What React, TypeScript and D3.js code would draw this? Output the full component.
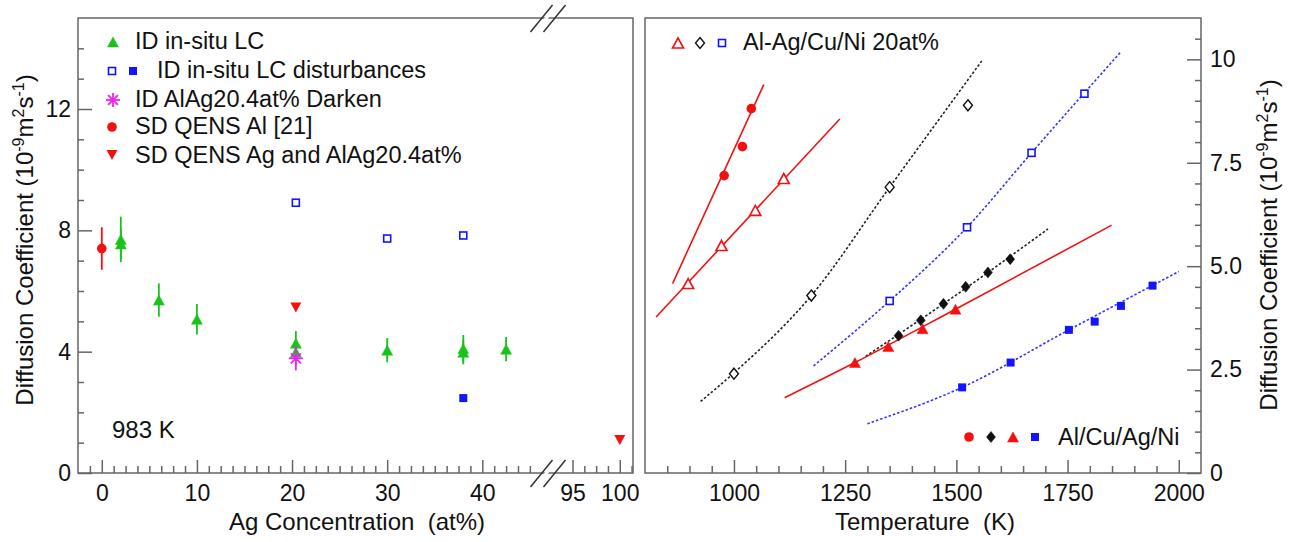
import React, { useEffect, useRef } from "react";
import * as d3 from "d3";

const W = 1289, H = 542;
const FONT = "'Liberation Sans', Arial, Helvetica, sans-serif";

// ---- left panel, 983 K : [Ag at%, D, err]
const insituLC = [[2, 7.7, 0.75], [2, 7.55, 0.5], [6, 5.7, 0.55], [10, 5.07, 0.5], [20.4, 4.28, 0.4], [20.4, 3.98, 0.3], [30, 4.05, 0.4], [38, 4.1, 0.45], [38, 3.98, 0.4], [42.5, 4.08, 0.4]];
const disturbOpen = [[20.4, 8.91], [30, 7.73], [38, 7.83]];
const disturbFilled = [[38, 2.47]];
const darkenAlAg = [[20.4, 3.78, 0.4]];
const qensAl = [[0, 7.4, 0.7]];
const qensAg = [[20.4, 5.46], [100, 1.09]];

const concMajorA = [0, 10, 20, 30, 40];
const concMajorB = [95, 100];
const leftYMajor = [0, 4, 8, 12];

// ---- right panel : [T (K), D]
const alPure = [[978, 7.19], [1019, 7.89], [1039, 8.81]];
const alAg20 = [[897, 4.58], [972, 5.5], [1048, 6.35], [1112, 7.12]];
const alCu20 = [[1000, 2.4], [1174, 4.29], [1350, 6.91], [1526, 8.89]];
const alNi20 = [[1350, 4.16], [1524, 5.94], [1669, 7.74], [1788, 9.17]];
const cuPure = [[1370, 3.32], [1420, 3.69], [1471, 4.09], [1521, 4.5], [1571, 4.85], [1621, 5.17]];
const agPure = [[1272, 2.67], [1347, 3.06], [1424, 3.49], [1498, 3.96]];
const niPure = [[1513, 2.07], [1622, 2.67], [1753, 3.46], [1811, 3.66], [1870, 4.04], [1941, 4.53]];

// fit curves
const alFit = [[862, 4.58], [1067, 9.39]];
const alAg20Fit = [[825, 3.77], [1238, 8.56]];
const alCu20Fit = [[925, 1.73], [1000, 2.42], [1174, 4.29], [1350, 6.91], [1557, 9.96]];
const alNi20Fit = [[1179, 2.59], [1350, 4.16], [1524, 5.94], [1669, 7.74], [1868, 10.16]];
const cuFit = [[1296, 2.82], [1471, 4.09], [1706, 5.9]];
const agFit = [[1114, 1.82], [1272, 2.67], [1498, 3.96], [1849, 5.99]];
const niFit = [[1300, 1.19], [1513, 2.07], [1753, 3.46], [2000, 4.87]];

const tempMajor = [1000, 1250, 1500, 1750, 2000];
const rightYMajor = [0, 2.5, 5, 7.5, 10];

const RED = "#f41010", GREEN = "#19c419", BLUE = "#1414ff", MAG = "#ee22ee", BLK = "#111";
const AXC = "#666";

function marker(g: any, kind: string, x: number, y: number, color: string) {
  if (kind === "tri" || kind === "triOpen") {
    const w = 11, h = 10;
    g.append("path").attr("d", `M${x - w / 2},${y + h / 2}L${x + w / 2},${y + h / 2}L${x},${y - h / 2}Z`)
      .attr("fill", kind === "tri" ? color : "#fff").attr("stroke", color).attr("stroke-width", kind === "tri" ? 0.5 : 1.6);
  } else if (kind === "triDown") {
    const w = 11, h = 10;
    g.append("path").attr("d", `M${x - w / 2},${y - h / 2}L${x + w / 2},${y - h / 2}L${x},${y + h / 2}Z`).attr("fill", color);
  } else if (kind === "circle") {
    g.append("circle").attr("cx", x).attr("cy", y).attr("r", 4.8).attr("fill", color);
  } else if (kind === "square") {
    g.append("rect").attr("x", x - 4).attr("y", y - 4).attr("width", 8).attr("height", 8).attr("fill", color);
  } else if (kind === "squareOpen") {
    g.append("rect").attr("x", x - 3.5).attr("y", y - 3.5).attr("width", 7).attr("height", 7)
      .attr("fill", "#fff").attr("stroke", color).attr("stroke-width", 1.6);
  } else if (kind === "diamond" || kind === "diamondOpen") {
    const w = 4.5, h = 5.5;
    g.append("path").attr("d", `M${x},${y - h}L${x + w},${y}L${x},${y + h}L${x - w},${y}Z`)
      .attr("fill", kind === "diamond" ? color : "#fff").attr("stroke", color).attr("stroke-width", kind === "diamond" ? 0.5 : 1.4);
  } else if (kind === "star") {
    const r = 7;
    [0, 45, 90, 135].forEach(a => {
      const dx = r * Math.cos(a * Math.PI / 180), dy = r * Math.sin(a * Math.PI / 180);
      g.append("line").attr("x1", x - dx).attr("y1", y - dy).attr("x2", x + dx).attr("y2", y + dy)
        .attr("stroke", color).attr("stroke-width", 1.8);
    });
  }
}

function yTitle(g: any, x: number, y: number) {
  const t = g.append("text").attr("transform", `translate(${x},${y}) rotate(-90)`)
    .attr("text-anchor", "middle").attr("font-size", 24).attr("fill", "#111");
  t.append("tspan").text("Diffusion Coefficient (10");
  t.append("tspan").attr("dy", -9).attr("font-size", 16).text("-9");
  t.append("tspan").attr("dy", 9).text("m");
  t.append("tspan").attr("dy", -9).attr("font-size", 16).text("2");
  t.append("tspan").attr("dy", 9).text("s");
  t.append("tspan").attr("dy", -9).attr("font-size", 16).text("-1");
  t.append("tspan").attr("dy", 9).text(")");
}

function breakMark(g: any, bx: number, by: number) {
  // white gap between the two slashes, then the slashes
  g.append("path").attr("d", `M${bx - 8},${by + 8}L${bx + 1},${by - 8}L${bx + 5},${by - 8}L${bx - 4},${by + 8}Z`)
    .attr("fill", "#fff");
  [-6.5, 6.5].forEach(o => {
    g.append("line").attr("x1", bx + o - 11).attr("y1", by + 14).attr("x2", bx + o + 11).attr("y2", by - 13)
      .attr("stroke", "#333").attr("stroke-width", 1.5);
  });
}

function styleAxis(sel: any) {
  sel.select(".domain").remove();
  sel.selectAll(".tick line").attr("stroke", AXC).attr("stroke-width", 1.5);
  sel.selectAll("text").attr("font-size", 23).attr("font-family", FONT).attr("fill", "#111");
}

export default function App() {
  const ref = useRef<SVGSVGElement>(null);

  useEffect(() => {
    const svg = d3.select(ref.current);
    svg.selectAll("*").remove();

    // ================= left panel =================
    const L = { x0: 78, x1: 633, y0: 18, y1: 473 };
    const bx = 547;
    const xA = d3.scaleLinear().domain([-2.5, 46.8]).range([L.x0, bx]);
    const xB = d3.scaleLinear().domain([92.3, 101.4]).range([bx, L.x1]);
    const xC = (v: number) => (v > 70 ? xB(v) : xA(v));
    const yL = d3.scaleLinear().domain([0, 15]).range([L.y1, L.y0]);

    const gl = svg.append("g");
    gl.append("rect").attr("x", L.x0).attr("y", L.y0).attr("width", L.x1 - L.x0).attr("height", L.y1 - L.y0)
      .attr("fill", "none").attr("stroke", AXC).attr("stroke-width", 1.5);

    const minA = d3.range(-1.25, 45.01, 1.25).filter(v => Math.abs(v % 10) > 0.01);
    const minB = d3.range(96.25, 101.3, 1.25).filter(v => Math.abs(v - 100) > 0.01);
    gl.append("g").attr("transform", `translate(0,${L.y1})`)
      .call(d3.axisBottom(xA).tickValues(minA).tickSize(-7).tickFormat(() => "")).call(styleAxis);
    gl.append("g").attr("transform", `translate(0,${L.y1})`)
      .call(d3.axisBottom(xB).tickValues(minB).tickSize(-7).tickFormat(() => "")).call(styleAxis);
    gl.append("g").attr("transform", `translate(0,${L.y1})`)
      .call(d3.axisBottom(xA).tickValues(concMajorA).tickSize(-13).tickPadding(12)).call(styleAxis);
    gl.append("g").attr("transform", `translate(0,${L.y1})`)
      .call(d3.axisBottom(xB).tickValues(concMajorB).tickSize(-13).tickPadding(12)).call(styleAxis);
    gl.append("g").attr("transform", `translate(${L.x0},0)`)
      .call(d3.axisLeft(yL).tickValues(d3.range(1, 15).filter(v => v % 4 !== 0)).tickSize(-6).tickFormat(() => "")).call(styleAxis);
    gl.append("g").attr("transform", `translate(${L.x0},0)`)
      .call(d3.axisLeft(yL).tickValues(leftYMajor).tickSize(-14).tickPadding(7)).call(styleAxis);

    breakMark(gl, bx + 1, L.y1);
    breakMark(gl, bx + 1, L.y0);

    const pts = gl.append("g");
    const errBar = (d: number[], color: string) =>
      pts.append("line").attr("x1", xC(d[0])).attr("x2", xC(d[0]))
        .attr("y1", yL(d[1] - d[2])).attr("y2", yL(d[1] + d[2])).attr("stroke", color).attr("stroke-width", 1.8);
    qensAl.forEach(d => { errBar(d, RED); marker(pts, "circle", xC(d[0]), yL(d[1]), RED); });
    insituLC.forEach(d => errBar(d, GREEN));
    insituLC.forEach(d => marker(pts, "tri", xC(d[0]), yL(d[1]), GREEN));
    darkenAlAg.forEach(d => { errBar(d, MAG); marker(pts, "star", xC(d[0]), yL(d[1]), MAG); });
    qensAg.forEach(d => marker(pts, "triDown", xC(d[0]), yL(d[1]), RED));
    disturbOpen.forEach(d => marker(pts, "squareOpen", xC(d[0]), yL(d[1]), BLUE));
    disturbFilled.forEach(d => marker(pts, "square", xC(d[0]), yL(d[1]), BLUE));

    // legend
    const lg = gl.append("g").attr("font-size", 23.5).attr("fill", "#111");
    marker(lg, "tri", 113, 42, GREEN);
    lg.append("text").attr("x", 135).attr("y", 49).text("ID in-situ LC");
    marker(lg, "squareOpen", 112, 71, BLUE);
    marker(lg, "square", 133, 71, BLUE);
    lg.append("text").attr("x", 157).attr("y", 78).text("ID in-situ LC disturbances");
    marker(lg, "star", 113, 100, MAG);
    lg.append("text").attr("x", 135).attr("y", 107).text("ID AlAg20.4at% Darken");
    marker(lg, "circle", 112, 127, RED);
    lg.append("text").attr("x", 135).attr("y", 134).text("SD QENS Al [21]");
    marker(lg, "triDown", 112, 155, RED);
    lg.append("text").attr("x", 135).attr("y", 163).text("SD QENS Ag and AlAg20.4at%");

    gl.append("text").attr("x", 112).attr("y", 438).attr("font-size", 24).attr("fill", "#111").text("983 K");
    gl.append("text").attr("x", 357).attr("y", 530).attr("text-anchor", "middle").attr("font-size", 24)
      .attr("fill", "#111").style("white-space", "pre").text("Ag Concentration  (at%)");
    yTitle(gl, 33, 240);

    // ================= right panel =================
    const R = { x0: 645, x1: 1201, y0: 18, y1: 473 };
    const xR = d3.scaleLinear().domain([800, 2050]).range([R.x0, R.x1]);
    const yR = d3.scaleLinear().domain([0, 11]).range([R.y1, R.y0]);

    const gr = svg.append("g");
    gr.append("rect").attr("x", R.x0).attr("y", R.y0).attr("width", R.x1 - R.x0).attr("height", R.y1 - R.y0)
      .attr("fill", "none").attr("stroke", AXC).attr("stroke-width", 1.5);
    gr.append("g").attr("transform", `translate(0,${R.y1})`)
      .call(d3.axisBottom(xR).tickValues(d3.range(850, 2001, 50).filter(v => v % 250 !== 0)).tickSize(-7).tickFormat(() => ""))
      .call(styleAxis);
    gr.append("g").attr("transform", `translate(0,${R.y1})`)
      .call(d3.axisBottom(xR).tickValues(tempMajor).tickSize(-13).tickPadding(12).tickFormat(d3.format("d"))).call(styleAxis);
    gr.append("g").attr("transform", `translate(${R.x1},0)`)
      .call(d3.axisRight(yR).tickValues(d3.range(0.5, 10.6, 0.5).filter(v => v % 2.5 !== 0)).tickSize(-6).tickFormat(() => ""))
      .call(styleAxis);
    gr.append("g").attr("transform", `translate(${R.x1},0)`)
      .call(d3.axisRight(yR).tickValues(rightYMajor).tickSize(-14).tickPadding(9)
        .tickFormat((d: any) => (d === 0 ? "0" : d === 10 ? "10" : d3.format(".1f")(d)))).call(styleAxis);

    const line = d3.line<number[]>().x(d => xR(d[0])).y(d => yR(d[1])).curve(d3.curveMonotoneX);
    const fit = (data: number[][], color: string, dotted: boolean) =>
      gr.append("path").attr("d", line(data)).attr("fill", "none").attr("stroke", color)
        .attr("stroke-width", 1.6).attr("stroke-dasharray", dotted ? "2.5,2" : null);
    fit(alFit, RED, false);
    fit(alAg20Fit, RED, false);
    fit(alCu20Fit, "#222", true);
    fit(alNi20Fit, "#3333ff", true);
    fit(cuFit, "#222", true);
    fit(agFit, RED, false);
    fit(niFit, "#3333ff", true);

    const rp = gr.append("g");
    alPure.forEach(d => marker(rp, "circle", xR(d[0]), yR(d[1]), RED));
    alAg20.forEach(d => marker(rp, "triOpen", xR(d[0]), yR(d[1]), RED));
    alCu20.forEach(d => marker(rp, "diamondOpen", xR(d[0]), yR(d[1]), BLK));
    alNi20.forEach(d => marker(rp, "squareOpen", xR(d[0]), yR(d[1]), BLUE));
    cuPure.forEach(d => marker(rp, "diamond", xR(d[0]), yR(d[1]), BLK));
    agPure.forEach(d => marker(rp, "tri", xR(d[0]), yR(d[1]), RED));
    niPure.forEach(d => marker(rp, "square", xR(d[0]), yR(d[1]), BLUE));

    const rl = gr.append("g").attr("font-size", 23.5).attr("fill", "#111");
    marker(rl, "triOpen", 678, 43, RED);
    marker(rl, "diamondOpen", 700, 43, BLK);
    marker(rl, "squareOpen", 722, 43, BLUE);
    rl.append("text").attr("x", 743).attr("y", 50).text("Al-Ag/Cu/Ni 20at%");
    marker(rl, "circle", 969, 437, RED);
    marker(rl, "diamond", 991, 437, BLK);
    marker(rl, "tri", 1013, 437, RED);
    marker(rl, "square", 1035, 437, BLUE);
    rl.append("text").attr("x", 1058).attr("y", 445).text("Al/Cu/Ag/Ni");

    gr.append("text").attr("x", 925).attr("y", 530).attr("text-anchor", "middle").attr("font-size", 24)
      .attr("fill", "#111").style("white-space", "pre").text("Temperature  (K)");
    yTitle(gr, 1277, 245);
  }, []);

  return (
    <svg ref={ref} width={W} height={H} fontFamily={FONT}
      style={{ position: "absolute", left: 0, top: 0, background: "#fff" }} />
  );
}
